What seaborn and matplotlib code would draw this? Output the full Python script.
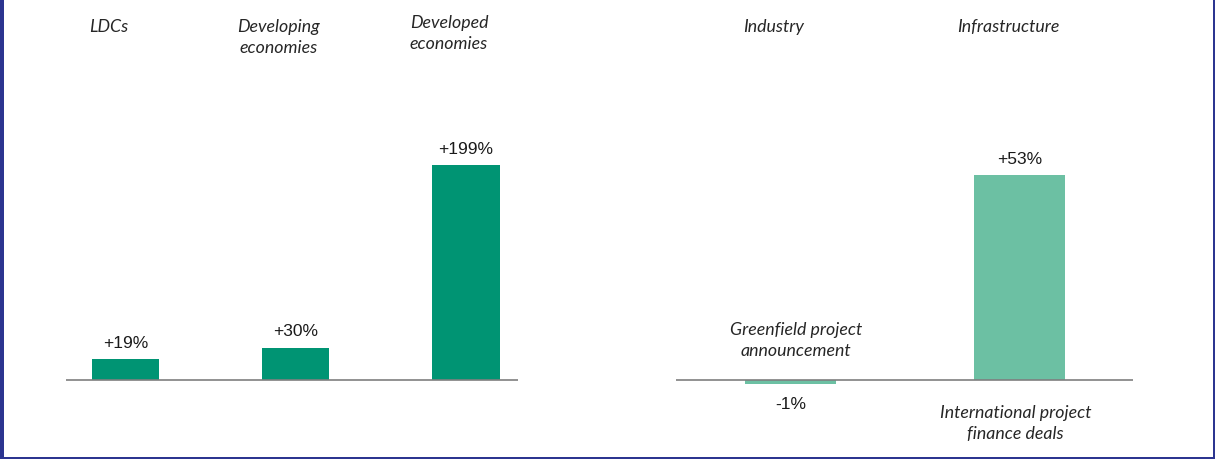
import matplotlib
matplotlib.use('Agg')
import matplotlib.pyplot as plt
from matplotlib.patches import Rectangle
import pandas as pd
import seaborn as sns

sns.set_style('white')
plt.rcParams['font.family'] = ['Liberation Sans', 'DejaVu Sans']

# Left panel: growth by economy group
groups = ['LDCs', 'Developing\neconomies', 'Developed\neconomies']
group_growth = [19, 30, 199]
group_labels = ['+19%', '+30%', '+199%']

# Right panel: growth by sector
sectors = ['Industry', 'Infrastructure']
sector_growth = [-1, 53]
sector_labels = ['-1%', '+53%']
sector_notes = ['Greenfield project\nannouncement', 'International project\nfinance deals']

DARK_GREEN = '#009473'
LIGHT_GREEN = '#6cc0a3'
AXIS_GREY = '#7f7f7f'
BORDER = '#2c3590'

W, H = 1216, 459
fig = plt.figure(figsize=(W / 100, H / 100), dpi=100)

ital = dict(family='Lato', style='italic', fontsize=12.8, color='#262626',
            ha='center', va='center', linespacing=1.4)
val = dict(fontsize=12.5, color='#1a1a1a', ha='center', va='center')

# --- left panel ---
ax1 = fig.add_axes([66 / W, 0, (518 - 66) / W, 1])
df1 = pd.DataFrame({'group': groups, 'growth': group_growth})
sns.barplot(data=df1, x='group', y='growth', order=groups, color=DARK_GREEN,
            width=0.395, saturation=1, linewidth=0, ax=ax1)
ax1.set_xlim(-0.35, 2.306)
ax1.set_ylim(-79 / 1.08, 380 / 1.08)
ax1.axhline(0, color=AXIS_GREY, lw=1.2)
tr1 = ax1.get_xaxis_transform()
for i, (g, v, lab) in enumerate(zip(groups, group_growth, group_labels)):
    ax1.annotate(lab, (i, v), xytext=(0, 11.5), textcoords='offset points', **val)
    ty = 0.941 if '\n' not in g else (0.919 if i == 1 else 0.927)
    ax1.text(i - 0.1, ty, g, transform=tr1, **ital)

# --- right panel ---
ax2 = fig.add_axes([676 / W, 0, (1133 - 676) / W, 1])
df2 = pd.DataFrame({'sector': sectors, 'growth': sector_growth})
sns.barplot(data=df2, x='sector', y='growth', order=sectors, color=LIGHT_GREEN,
            width=0.397, saturation=1, linewidth=0, ax=ax2)
ax2.set_xlim(-0.5, 1.496)
ax2.set_ylim(-79 / 3.868, 380 / 3.868)
ax2.axhline(0, color=AXIS_GREY, lw=1.2)
tr2 = ax2.get_xaxis_transform()
for i, (s, v, lab) in enumerate(zip(sectors, sector_growth, sector_labels)):
    off = 11.5 if v > 0 else -14.5
    ax2.annotate(lab, (i, v), xytext=(0, off), textcoords='offset points', **val)
ax2.text(-0.072, 0.941, sectors[0], transform=tr2, **ital)
ax2.text(0.95, 0.941, sectors[1], transform=tr2, **ital)
ax2.text(0.023, 0.258, sector_notes[0], transform=tr2, **ital)
ax2.text(0.983, 0.078, sector_notes[1], transform=tr2, **ital)

for ax in (ax1, ax2):
    ax.axis('off')

# frame edges
fig.add_artist(Rectangle((0, 0), 4 / W, 1, transform=fig.transFigure,
                         color=BORDER, lw=0))
fig.add_artist(Rectangle((1213 / W, 0), 2 / W, 1, transform=fig.transFigure,
                         color=BORDER, lw=0))
fig.add_artist(Rectangle((0, 0), 1215 / W, 2 / H, transform=fig.transFigure,
                         color=BORDER, lw=0))

fig.savefig('out.png', dpi=100)
